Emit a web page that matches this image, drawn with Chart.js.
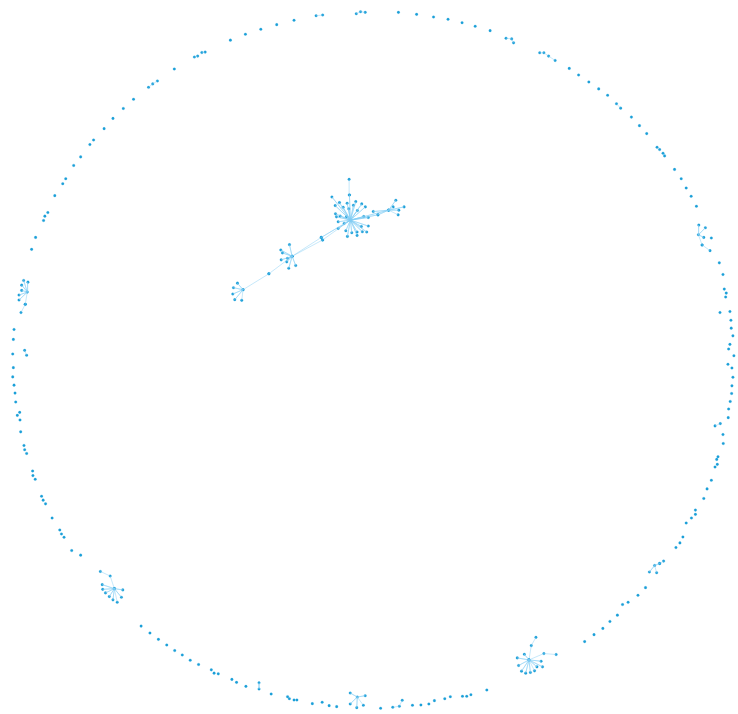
<!DOCTYPE html>
<html>
<head>
<meta charset="utf-8">
<script src="https://cdn.jsdelivr.net/npm/chart.js@4.4.1/dist/chart.umd.min.js"></script>
<style>
  html, body { margin: 0; padding: 0; background: #fff; }
  #wrap { width: 738px; height: 714px; }
</style>
</head>
<body>
<div id="wrap"><canvas id="graph"></canvas></div>
<script>
// layout positions of the nodes (graph space, same size as the picture)

// nodes with no links
const isolated = [
  [102.6,127.3],[111.5,117],[121.9,107],[132.2,97.7],[173.2,67.3],[229.6,38.3],[244.7,32.3],
  [260.2,27.3],[276.2,22.7],[293.6,18.3],[398.6,10.3],[416.9,12.3],[433.9,15],[448.5,17.3],
  [462.6,20.7],[475.8,24.3],[490.8,28.7],[570.4,66.7],[579.8,73.3],[590.1,80.3],[600,87.3],
  [609,93.7],[632.9,115.7],[641,124.3],
  // left side
  [92,138.7],[88.3,143.3],[79,155.7],[72,164.3],[64,177.7],[61,182.7],[53,194.7],[46,211.7],
  [43,215.3],[41.7,219.7],[33.7,236.7],[29.7,248.7],[12,329.3],[11.3,339.3],[10.7,354],
  [11.3,367.7],[10.7,377],[12,385.3],[13,393.3],[13.7,402.3],[17.7,412.7],[15.3,415.7],
  [18,420.3],[18.7,432.3],[22,446],[22.7,450.3],[24.7,454],[30.7,471.7],[31,476.3],[33.3,480],
  [39.7,497],[41.3,501],[43.7,504.7],[50.3,519],[58,531],[59.7,535],[62.3,538.3],[70,551.7],
  [79,556.3],
  // right side
  [648.3,132.3],[658.7,146],[661.3,148.3],[664.7,152],[666.3,154.7],[676.3,168.3],[683,177.7],
  [688,187],[693,195.3],[698.3,205.3],[713.3,237.3],[721.3,262.3],[725,274],[726.3,288.7],
  [728.3,292.7],[727.7,296.7],[722,312.3],[732,311.3],[733,320],[733.3,328],[735,335.7],
  [732,344.3],[730.7,349],[736,355.7],[730,364.3],[734,368],[735,377.3],[734,386],[733.7,393.7],
  [732.3,401.7],[730.7,409.3],[730.3,418],[725,435],[725.3,444],[720,457.3],[718.7,460],
  [719.3,465],[717,467.7],[713.3,481],[709,489.7],[705.7,499.3],[697.3,511],[697.3,515.3],
  [693.3,519],[688,524],[684.7,538],[681.7,544],[677.7,548.7],
  // bottom
  [647.1,589],[639.5,596.7],[629.6,603.7],[624,606],[618.8,616.7],[611.3,623],[604.2,630],
  [595.3,636.3],[585.9,643.3],[487.5,692],[471.5,696.7],[467.3,698.3],[463,698.3],[450.8,698.7],
  [445.2,700.7],[434.8,702.7],[429.2,706],[421.2,707],[412.7,707.3],[380.7,710.3],[336.5,708.7],
  [328.9,707.7],[321.9,704.3],[312,705.7],[296.5,702],[293.6,702],[288.9,700.7],[287.1,698.7],
  [270.6,696],[245.2,688.3],[235.8,684.3],[231.1,681.3],[217.4,675.7],[213.2,675],[210.4,671.7],
  [197.6,666.3],[189.2,662],[181.2,656.7],[173.6,652.3],[165.6,646.7],[157.2,641],[148.7,634.7],
  [139.8,627.7]
];

// linked runs: each point joined to the next
const chains = [
  [[315.8,13.7],[322.4,13]],
  [[356.2,11.7],[360.5,9.7],[365.2,10.3]],
  [[193.4,55.3],[196.7,54.3]],
  [[200.9,50.7],[204.2,50.3]],
  [[147.3,85.7],[151.5,82.3],[156.2,79.3]],
  [[506.8,36.3],[512.5,37],[514.4,41]],
  [[540.7,51],[544.9,51],[549.6,54.3],[556.2,58.7]],
  [[617.9,102.3],[622.1,106.7]],
  [[22.7,350.3],[24.7,355.3]],
  [[23.3,304],[19,312.3]],
  [[704,244.3],[712,250]],
  [[717,426.3],[722.3,424]],
  [[661.3,564.7],[665.3,562.3]],
  [[98.8,572.7],[108.7,577.3],[112.9,590]],
  [[258.4,684.7],[258.4,691]],
  [[392.9,709.3],[399.5,708.3],[402.4,702.3]],
  [[536.9,639],[532.2,647.3],[529.9,661.7]],
  [[529.9,661.7],[544.9,655.3],[557.2,656.3]],
  [[349.3,194],[349,178.3]],
  [[321,236.7],[291.7,255.7]],
  [[322.3,239.3],[291.7,255.7]],
  [[268.3,273.3],[242.3,289.3]]
];

// hubs: first point is the hub, every other point links to it
const stars = [
  // main cluster
  [[350.3,219.3],[349.3,194],[331.7,196],[339.3,201.7],[347,202.3],[355.7,200.7],[361.7,203],
   [335,204.7],[343,206.3],[353.3,204.3],[365.3,206],[348.7,208],[357.3,209.7],[335.3,213],
   [340,215.3],[336.3,216],[346.3,216],[363.7,215.7],[368.3,216.7],[338,221],[344,222.7],
   [361.3,225.7],[368.3,225.3],[338,227.7],[345.7,230],[351.7,232],[357,231.3],[362.3,231],
   [366.7,231.3],[347.3,235.7],[357,234.7],[378,214],[388.7,209.3],[321,236.7],[322.3,239.3]],
  [[388.7,209.3],[373.3,210.7],[378,214],[393.3,206],[396,199.3],[404.3,206],[399,209.3],[398.3,214]],
  [[291.7,255.7],[289,244],[280.3,249.3],[282,252.3],[287,257.7],[280.7,259.3],[286.3,261.3],
   [288.3,267.7],[295.3,265],[268.3,273.3]],
  [[242.3,289.3],[236.7,282.7],[232.7,287.3],[232,293.7],[234,299.3],[241,300]],
  // on the ring
  [[25.3,291.7],[21.7,280],[26,281.7],[19.7,284.7],[19.7,290],[17,294.7],[17,299.7],[23.3,304]],
  [[700.3,234],[700.7,224.3],[707.3,227],[705.7,236.7],[704,244.3]],
  [[656.3,566.7],[661.3,564.7],[651,573.3],[658.3,574]],
  [[112.9,590],[100.7,586],[101.2,590.7],[121.4,591.3],[104,594.3],[107.8,598],[120,598.7],
   [111.5,601.3],[115.8,603.7]],
  [[357.2,699],[350.1,695],[365.2,697.7],[350.1,706],[356.7,709.7],[363.3,707.3]],
  [[529.9,661.7],[525.2,656],[518.1,659.7],[542.1,663],[519.5,667.3],[537.9,668.7],[543.5,668.7],
   [522.4,673],[526.6,675],[531.3,674.3],[535.5,672.7]]
];

const nodeColor = '#1a9fd8';
const edgeColor = 'rgba(130,205,245,0.65)';

function pt(p) { return {x: p[0], y: p[1]}; }

let datasets = [];

// edges first so nodes sit on top
chains.forEach(function(c) {
  datasets.push({
    type: 'line',
    data: c.map(pt),
    borderColor: edgeColor,
    borderWidth: 0.7,
    pointRadius: 0,
    fill: false,
    tension: 0
  });
});
stars.forEach(function(s) {
  let d = [];
  for (let i = 1; i < s.length; i++) {
    d.push(pt(s[0]));
    d.push(pt(s[i]));
  }
  datasets.push({
    type: 'line',
    data: d,
    borderColor: edgeColor,
    borderWidth: 0.7,
    pointRadius: 0,
    fill: false,
    tension: 0
  });
});

let allNodes = isolated.map(pt);
chains.forEach(function(c) { c.forEach(function(p) { allNodes.push(pt(p)); }); });
stars.forEach(function(s) { s.forEach(function(p) { allNodes.push(pt(p)); }); });

datasets.push({
  type: 'scatter',
  data: allNodes,
  backgroundColor: nodeColor,
  borderColor: 'rgba(26,159,216,0.3)',
  borderWidth: 0.8,
  pointRadius: 1.3,
  pointHoverRadius: 1.3
});

new Chart(document.getElementById('graph').getContext('2d'), {
  type: 'scatter',
  data: { datasets: datasets },
  options: {
    responsive: true,
    maintainAspectRatio: false,
    animation: false,
    layout: { padding: 0 },
    plugins: { legend: { display: false }, tooltip: { enabled: false } },
    scales: {
      x: { type: 'linear', min: 0, max: 738, display: false },
      y: { type: 'linear', min: 0, max: 714, reverse: true, display: false }
    },
    clip: false
  }
});
</script>
</body>
</html>
